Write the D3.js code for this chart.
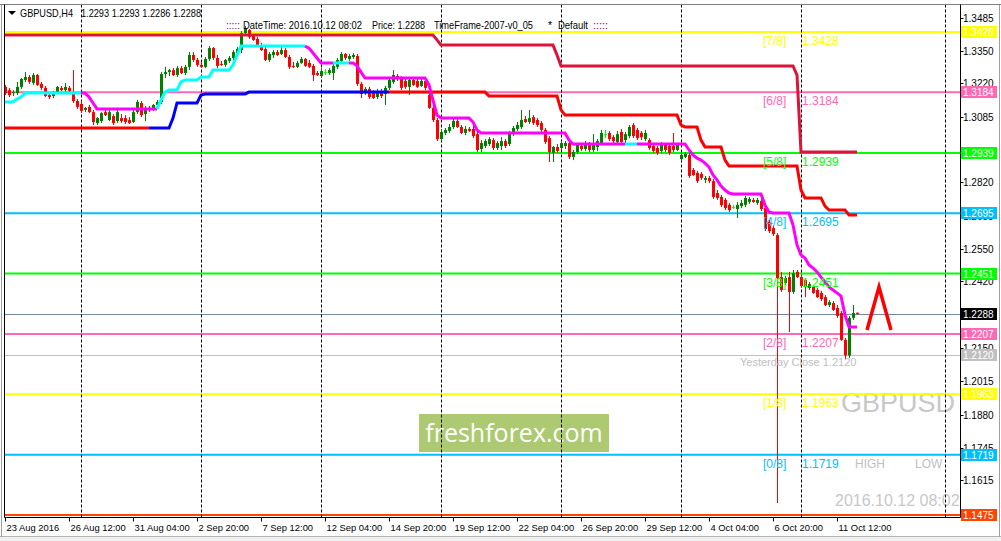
<!DOCTYPE html>
<html><head><meta charset="utf-8">
<script src="https://cdn.jsdelivr.net/npm/d3@7"></script>
<style>
html,body{margin:0;padding:0;background:#fff;}
svg{display:block;}
text{font-family:"Liberation Sans",Arial,sans-serif;}
</style>
</head><body>
<svg id="c" width="1001" height="541"></svg>
<script>
// ---------------- DATA ----------------
const symbol = "GBPUSD,H4";
const lastOHLC = "1.2293 1.2293 1.2286 1.2288";
const opens = [
1.3206,1.3193,1.3181,1.3181,1.3206,1.3234,1.3246,1.3222,1.3254,1.3218,
1.3202,1.3173,1.3169,1.3185,1.3202,1.3193,1.3202,1.3181,1.3149,1.3137,
1.3113,1.3125,1.3104,1.3060,1.3068,1.3104,1.3072,1.3088,1.3068,1.3080,
1.3080,1.3072,1.3064,1.3104,1.3141,1.3096,1.3121,1.3113,1.3133,1.3145,
1.3258,1.3266,1.3274,1.3254,1.3282,1.3262,1.3287,1.3335,1.3315,1.3295,
1.3287,1.3319,1.3363,1.3323,1.3299,1.3295,1.3311,1.3323,1.3343,1.3355,
1.3424,1.3436,1.3412,1.3400,1.3375,1.3359,1.3315,1.3335,1.3347,1.3339,
1.3355,1.3327,1.3291,1.3287,1.3303,1.3319,1.3303,1.3291,1.3262,1.3250,
1.3266,1.3262,1.3262,1.3287,1.3311,1.3339,1.3319,1.3327,1.3331,1.3218,
1.3181,1.3198,1.3181,1.3165,1.3189,1.3177,1.3202,1.3226,1.3250,1.3242,
1.3230,1.3206,1.3234,1.3230,1.3210,1.3230,1.3173,1.3121,1.3072,1.2995,
1.3020,1.3028,1.3044,1.3068,1.3044,1.3020,1.3036,1.3036,1.3015,1.2955,
1.2967,1.2975,1.2991,1.2959,1.2967,1.2987,1.2975,1.3015,1.3036,1.3044,
1.3076,1.3064,1.3084,1.3072,1.3060,1.3032,1.2999,1.2939,1.2963,1.2959,
1.2967,1.2979,1.2923,1.2943,1.2967,1.2955,1.2975,1.2951,1.2963,1.2979,
1.3015,1.3020,1.3003,1.2983,1.3024,1.2991,1.3007,1.3052,1.3032,1.3020,
1.2995,1.2991,1.2967,1.2959,1.2947,1.2971,1.2967,1.2967,1.2951,1.2914,
1.2923,1.2931,1.2870,1.2858,1.2854,1.2830,1.2838,1.2825,1.2777,1.2761,
1.2749,1.2729,1.2720,1.2712,1.2724,1.2729,1.2741,1.2749,1.2737,1.2745,
1.2716,1.2660,1.2635,1.2607,1.2437,1.2413,1.2437,1.2377,1.2458,1.2437,
1.2425,1.2393,1.2397,1.2385,1.2373,1.2356,1.2324,1.2332,1.2312,1.2292,
1.2183,1.2120,1.2272,1.2293];
const highs = [
1.3214,1.3202,1.3193,1.3226,1.3242,1.3266,1.3254,1.3262,1.3258,1.3226,
1.3210,1.3185,1.3189,1.3210,1.3210,1.3222,1.3210,1.3274,1.3157,1.3149,
1.3125,1.3133,1.3113,1.3084,1.3104,1.3121,1.3113,1.3096,1.3113,1.3096,
1.3092,1.3084,1.3113,1.3153,1.3149,1.3129,1.3129,1.3137,1.3153,1.3266,
1.3287,1.3278,1.3282,1.3291,1.3291,1.3295,1.3347,1.3347,1.3323,1.3307,
1.3327,1.3371,1.3367,1.3335,1.3311,1.3319,1.3331,1.3355,1.3367,1.3432,
1.3452,1.3440,1.3420,1.3408,1.3384,1.3367,1.3347,1.3355,1.3355,1.3367,
1.3363,1.3335,1.3307,1.3311,1.3327,1.3323,1.3315,1.3299,1.3270,1.3282,
1.3278,1.3282,1.3299,1.3323,1.3347,1.3343,1.3339,1.3343,1.3339,1.3226,
1.3206,1.3206,1.3193,1.3198,1.3198,1.3210,1.3242,1.3274,1.3258,1.3250,
1.3238,1.3238,1.3242,1.3238,1.3238,1.3242,1.3185,1.3153,1.3080,1.3036,
1.3040,1.3056,1.3076,1.3076,1.3052,1.3048,1.3044,1.3056,1.3028,1.2991,
1.2995,1.3003,1.2999,1.2987,1.3003,1.2995,1.3028,1.3048,1.3064,1.3113,
1.3088,1.3113,1.3092,1.3080,1.3068,1.3040,1.3007,1.2967,1.2975,1.2987,
1.2987,1.2991,1.2951,1.2979,1.2979,1.2987,1.2983,1.3015,1.2995,1.3032,
1.3032,1.3028,1.3011,1.3028,1.3036,1.3024,1.3052,1.3060,1.3040,1.3028,
1.3032,1.2999,1.2979,1.2967,1.2983,1.2979,1.2975,1.3020,1.2979,1.2939,
1.2943,1.2939,1.2878,1.2866,1.2862,1.2846,1.2846,1.2834,1.2789,1.2769,
1.2757,1.2737,1.2729,1.2741,1.2749,1.2765,1.2761,1.2757,1.2757,1.2753,
1.2724,1.2668,1.2644,1.2615,1.2458,1.2441,1.2458,1.2466,1.2466,1.2445,
1.2433,1.2417,1.2405,1.2393,1.2381,1.2364,1.2344,1.2340,1.2324,1.2300,
1.2191,1.2280,1.2324,1.2293];
const lows = [
1.3173,1.3165,1.3169,1.3173,1.3198,1.3226,1.3218,1.3214,1.3210,1.3193,
1.3165,1.3157,1.3161,1.3177,1.3189,1.3185,1.3185,1.3141,1.3117,1.3100,
1.3104,1.3100,1.3052,1.3052,1.3060,1.3088,1.3068,1.3052,1.3060,1.3060,
1.3056,1.3056,1.3060,1.3096,1.3084,1.3068,1.3104,1.3109,1.3125,1.3137,
1.3242,1.3250,1.3250,1.3246,1.3258,1.3254,1.3274,1.3307,1.3287,1.3282,
1.3282,1.3311,1.3315,1.3282,1.3291,1.3287,1.3303,1.3315,1.3327,1.3343,
1.3416,1.3400,1.3392,1.3371,1.3351,1.3311,1.3307,1.3323,1.3331,1.3335,
1.3323,1.3278,1.3282,1.3282,1.3299,1.3287,1.3282,1.3230,1.3250,1.3242,
1.3254,1.3254,1.3234,1.3278,1.3303,1.3315,1.3311,1.3319,1.3210,1.3161,
1.3173,1.3157,1.3157,1.3157,1.3161,1.3133,1.3193,1.3218,1.3230,1.3193,
1.3198,1.3173,1.3210,1.3202,1.3206,1.3193,1.3117,1.3064,1.2987,1.2987,
1.3011,1.3020,1.3036,1.3040,1.3015,1.3011,1.3024,1.2999,1.2943,1.2943,
1.2959,1.2967,1.2951,1.2951,1.2951,1.2959,1.2967,1.3007,1.3028,1.3036,
1.3060,1.3056,1.3052,1.3044,1.3024,1.2975,1.2902,1.2902,1.2939,1.2951,
1.2955,1.2914,1.2910,1.2935,1.2947,1.2947,1.2943,1.2943,1.2947,1.2971,
1.2999,1.2987,1.2979,1.2975,1.2975,1.2979,1.2999,1.2999,1.2991,1.2991,
1.2987,1.2951,1.2939,1.2931,1.2939,1.2943,1.2931,1.2943,1.2947,1.2906,
1.2918,1.2838,1.2846,1.2817,1.2830,1.2817,1.2817,1.2753,1.2749,1.2720,
1.2708,1.2700,1.2712,1.2676,1.2716,1.2720,1.2733,1.2737,1.2729,1.2704,
1.2623,1.2615,1.2603,1.1523,1.2377,1.2405,1.2215,1.2369,1.2433,1.2393,
1.2356,1.2385,1.2369,1.2352,1.2340,1.2320,1.2316,1.2300,1.2272,1.2179,
1.2102,1.2110,1.2263,1.2286];
const closes = [
1.3181,1.3173,1.3185,1.3206,1.3238,1.3246,1.3226,1.3254,1.3214,1.3202,
1.3169,1.3165,1.3177,1.3206,1.3193,1.3206,1.3189,1.3149,1.3125,1.3109,
1.3121,1.3104,1.3064,1.3080,1.3100,1.3092,1.3104,1.3060,1.3104,1.3068,
1.3064,1.3060,1.3104,1.3145,1.3092,1.3121,1.3113,1.3133,1.3145,1.3258,
1.3266,1.3274,1.3254,1.3282,1.3262,1.3287,1.3335,1.3315,1.3295,1.3287,
1.3319,1.3363,1.3323,1.3291,1.3295,1.3315,1.3323,1.3347,1.3359,1.3424,
1.3444,1.3408,1.3396,1.3375,1.3355,1.3315,1.3339,1.3347,1.3335,1.3355,
1.3327,1.3287,1.3287,1.3303,1.3319,1.3291,1.3287,1.3254,1.3254,1.3270,
1.3266,1.3274,1.3291,1.3315,1.3339,1.3323,1.3331,1.3335,1.3218,1.3177,
1.3198,1.3165,1.3161,1.3189,1.3169,1.3202,1.3234,1.3254,1.3238,1.3202,
1.3206,1.3234,1.3214,1.3206,1.3230,1.3202,1.3121,1.3072,1.2995,1.3024,
1.3032,1.3044,1.3068,1.3044,1.3020,1.3036,1.3028,1.3007,1.2951,1.2979,
1.2987,1.2995,1.2959,1.2979,1.2987,1.2967,1.3020,1.3040,1.3052,1.3072,
1.3064,1.3080,1.3060,1.3052,1.3032,1.2983,1.2943,1.2963,1.2947,1.2979,
1.2979,1.2923,1.2943,1.2971,1.2955,1.2979,1.2951,1.2979,1.2987,1.3020,
1.3015,1.2995,1.2987,1.3015,1.2983,1.3015,1.3044,1.3007,1.2999,1.3003,
1.3020,1.2959,1.2947,1.2939,1.2971,1.2951,1.2939,1.2951,1.2971,1.2931,
1.2935,1.2846,1.2850,1.2825,1.2838,1.2838,1.2825,1.2761,1.2757,1.2728,
1.2716,1.2708,1.2720,1.2729,1.2737,1.2757,1.2753,1.2741,1.2749,1.2712,
1.2631,1.2623,1.2611,1.2433,1.2385,1.2433,1.2377,1.2453,1.2437,1.2401,
1.2397,1.2409,1.2373,1.2356,1.2348,1.2324,1.2336,1.2304,1.2280,1.2183,
1.2120,1.2272,1.2292,1.2288];

// trailing line (cyan = up, magenta = down): [fromBar, toBar, price, state]
const trailSegs = [
[0,2,1.3145,"up"],[3,3,1.3157,"up"],[4,4,1.3165,"up"],[5,19,1.3181,"up"],
[20,20,1.3181,"dn"],[21,21,1.3165,"dn"],[22,22,1.3141,"dn"],[23,38,1.3117,"dn"],
[39,39,1.3153,"up"],[40,40,1.3185,"up"],[41,43,1.3193,"up"],[44,44,1.3226,"up"],[45,48,1.3234,"up"],
[49,51,1.3246,"up"],[52,56,1.3274,"up"],[57,57,1.3295,"up"],[58,58,1.3335,"up"],[59,75,1.3371,"up"],
[76,76,1.3363,"dn"],[77,77,1.3343,"dn"],[78,78,1.3323,"dn"],[79,82,1.3303,"dn"],
[83,86,1.3303,"up"],
[87,87,1.3303,"dn"],[88,88,1.3291,"dn"],[89,89,1.3266,"dn"],[90,105,1.3242,"dn"],[106,106,1.3214,"dn"],
[107,107,1.3153,"dn"],[108,108,1.3092,"dn"],[109,116,1.3080,"dn"],[117,117,1.3064,"dn"],[118,118,1.3032,"dn"],
[119,140,1.3020,"dn"],[141,141,1.2991,"dn"],[142,155,1.2975,"dn"],
[156,158,1.2975,"up"],
[159,170,1.2975,"dn"],[171,171,1.2951,"dn"],[172,172,1.2931,"dn"],[173,173,1.2918,"dn"],[174,174,1.2910,"dn"],
[175,175,1.2898,"dn"],[176,176,1.2882,"dn"],[177,177,1.2850,"dn"],[178,178,1.2830,"dn"],[179,179,1.2805,"dn"],
[180,180,1.2789,"dn"],[181,181,1.2777,"dn"],[182,189,1.2773,"dn"],[190,190,1.2728,"dn"],[191,191,1.2700,"dn"],
[192,196,1.2696,"dn"],[197,197,1.2648,"dn"],[198,198,1.2567,"dn"],[199,199,1.2526,"dn"],[200,200,1.2514,"dn"],
[201,201,1.2486,"dn"],[202,202,1.2474,"dn"],[203,203,1.2458,"dn"],[204,204,1.2437,"dn"],[205,205,1.2417,"dn"],
[206,206,1.2397,"dn"],[207,207,1.2385,"dn"],[208,208,1.2373,"dn"],[209,209,1.2360,"dn"],[210,210,1.2284,"dn"],
[211,213,1.2235,"dn"]];

// stop line (blue = up, red = down)
const stopSegs = [
[0,36,1.3040,"dn"],[37,41,1.3040,"up"],[42,42,1.3080,"up"],[43,48,1.3141,"up"],[49,49,1.3173,"up"],
[50,60,1.3177,"up"],[61,96,1.3185,"up"],[97,120,1.3185,"dn"],[121,138,1.3169,"dn"],[139,139,1.3113,"dn"],
[140,168,1.3092,"dn"],[169,169,1.3052,"dn"],[170,173,1.3044,"dn"],[174,174,1.2991,"dn"],[175,179,1.2963,"dn"],
[180,180,1.2910,"dn"],[181,198,1.2886,"dn"],[199,199,1.2789,"dn"],[200,204,1.2757,"dn"],[205,205,1.2724,"dn"],
[206,210,1.2708,"dn"],[211,213,1.2688,"dn"]];

// upper channel line (crimson)
const ceilSegs = [
[0,107,1.3416],[108,108,1.3396],[109,137,1.3375],[138,138,1.3335],[139,197,1.3291],[198,198,1.3254],[199,213,1.2943]];

// Murrey math levels
const mmLevels = [1.3428,1.3184,1.2939,1.2695,1.2451,1.2207,1.1963,1.1719,1.1475];
const mmNames  = ["[7/8]","[6/8]","[5/8]","[4/8]","[3/8]","[2/8]","[1/8]","[0/8]",""];
const bidPrice = 1.2288;
const yesterdayClose = 1.2120;

const priceTicks = [1.3485,1.3350,1.3220,1.3085,1.2820,1.2685,1.2550,1.2420,1.2150,1.2015,1.1880,1.1745,1.1615];
const timeTickBars = [0,16,32,48,64,80,96,112,128,144,160,176,192,208];
const timeTickLabels = ["23 Aug 2016","26 Aug 12:00","31 Aug 04:00","2 Sep 20:00","7 Sep 12:00","12 Sep 04:00",
 "14 Sep 20:00","19 Sep 12:00","22 Sep 04:00","26 Sep 20:00","29 Sep 12:00","4 Oct 04:00","6 Oct 20:00","11 Oct 12:00"];
const weekStartBars = [19,49,79,109,139,169,199];
const markerBars = [235];
const arrowPts = [[215.5,1.2223],[218.5,1.2397],[221.5,1.2223]];

// ---------------- DRAW ----------------
const svg = d3.select("#c");
const PL=4.5, PR=960.5, PT=4.5, PB=517.5;
const x = d3.scaleLinear().domain([0,213]).range([5,857]);
const y = d3.scaleLinear().domain([1.3428,1.1475]).range([32,515]);

const mmColors = ["#FFFF00","#FF69B4","#00FF00","#00BFFF","#00FF00","#FF69B4","#FFFF00","#00BFFF","#FF4500"];

svg.append("rect").attr("width",1001).attr("height",541).attr("fill","#ffffff");
svg.append("rect").attr("x",0).attr("y",537).attr("width",1001).attr("height",4).attr("fill","#f0f0f0");
svg.append("line").attr("x1",0).attr("x2",1001).attr("y1",536.5).attr("y2",536.5).attr("stroke","#b4b4b4");
svg.append("line").attr("x1",1.5).attr("x2",1.5).attr("y1",4).attr("y2",537).attr("stroke","#a0a0a0");
svg.append("line").attr("x1",999.5).attr("x2",999.5).attr("y1",4).attr("y2",537).attr("stroke","#a0a0a0");

const defs = svg.append("defs");
defs.append("clipPath").attr("id","pc").append("rect").attr("x",5).attr("y",5).attr("width",955).attr("height",512);
const g = svg.append("g").attr("clip-path","url(#pc)");

// logo
const logo = g.append("g");
logo.append("rect").attr("x",419).attr("y",414).attr("width",190).attr("height",38).attr("fill","#a6c566").attr("opacity",0.92);
logo.append("text").attr("x",514).attr("y",442).attr("text-anchor","middle").attr("fill","#ffffff")
  .style("font-family","'Open Sans',sans-serif").style("font-size","25px").text("freshforex.com");

// watermarks
g.append("text").attr("x",841).attr("y",412).attr("fill","#c8c8c8").style("font-size","27px").text("GBPUSD");
g.append("text").attr("x",835).attr("y",506).attr("fill","#c8c8c8").style("font-size","16px").text("2016.10.12 08:02");

// horizontal lines
mmLevels.forEach((v,i)=>{
  g.append("line").attr("x1",PL).attr("x2",PR).attr("y1",y(v)).attr("y2",y(v))
   .attr("stroke",mmColors[i]).attr("stroke-width",2);
});
g.append("line").attr("x1",PL).attr("x2",PR).attr("y1",Math.round(y(bidPrice))+0.5).attr("y2",Math.round(y(bidPrice))+0.5).attr("stroke","#778899");
g.append("line").attr("x1",PL).attr("x2",PR).attr("y1",Math.round(y(yesterdayClose))+0.5).attr("y2",Math.round(y(yesterdayClose))+0.5).attr("stroke","#c0c0c0");

// separators
weekStartBars.concat(markerBars).forEach(b=>{
  const px = Math.round(x(b))+0.5;
  g.append("line").attr("x1",px).attr("x2",px).attr("y1",PT).attr("y2",PB)
   .attr("stroke","#000").attr("stroke-dasharray","3,2");
});

// candles
const upCol="#008000", dnCol="#FF0000", dojiCol="#00FF00";
const cg = g.append("g");
opens.forEach((o,i)=>{
  const h=highs[i], l=lows[i], c=closes[i];
  const cx = Math.round(x(i));
  const col = Math.abs(o-c)<0.00005 ? dojiCol : (c>o?upCol:dnCol);
  cg.append("line").attr("x1",cx+0.5).attr("x2",cx+0.5).attr("y1",y(h)).attr("y2",y(l)).attr("stroke",col);
  const top = Math.min(y(o),y(c)), hh = Math.max(1, Math.abs(y(o)-y(c)));
  cg.append("rect").attr("x",cx-1).attr("y",top).attr("width",3).attr("height",hh).attr("fill",col);
});

// step lines
function expand(segs){
  const out=[];
  segs.forEach(s=>{for(let b=s[0];b<=s[1];b++) out.push({b:b,v:s[2],st:s[3]});});
  return out;
}
const lineGen = d3.line().x(d=>x(d.b)).y(d=>y(d.v));
function drawStates(pts, colors, width){
  let run=[pts[0]], st=pts[0].st;
  const flush=()=>{ if(run.length>1) g.append("path").attr("d",lineGen(run)).attr("fill","none")
      .attr("stroke",colors[st]).attr("stroke-width",width).attr("stroke-linejoin","miter"); };
  for(let i=1;i<pts.length;i++){
    if(pts[i].st!==st){ flush(); run=[pts[i-1]]; st=pts[i].st; }
    run.push(pts[i]);
  }
  flush();
}
drawStates(expand(ceilSegs).map(d=>({b:d.b,v:d.v,st:"c"})), {c:"#DC143C"}, 3);
drawStates(expand(stopSegs), {up:"#0000FF",dn:"#FF0000"}, 3);
drawStates(expand(trailSegs), {up:"#00FFFF",dn:"#FF00FF"}, 3);

// red arrow mark
g.append("path").attr("d",d3.line().x(d=>x(d[0])).y(d=>y(d[1]))(arrowPts))
 .attr("fill","none").attr("stroke","#FF0000").attr("stroke-width",3.5);

// MM labels
mmLevels.forEach((v,i)=>{
  if(!mmNames[i]) return;
  const by = y(v)+13;
  g.append("text").attr("x",763).attr("y",by).attr("fill",mmColors[i]).style("font-size","12px").text(mmNames[i]);
  g.append("text").attr("x",802).attr("y",by).attr("fill",mmColors[i]).style("font-size","12px").text(v.toFixed(4));
});
g.append("text").attr("x",855).attr("y",y(1.1719)+13).attr("fill","#c0c0c0").style("font-size","12px").text("HIGH");
g.append("text").attr("x",915).attr("y",y(1.1719)+13).attr("fill","#c0c0c0").style("font-size","12px").text("LOW");
g.append("text").attr("x",740).attr("y",y(yesterdayClose)+11).attr("fill","#c0c0c0").style("font-size","11px")
  .text("Yesterday Close " + yesterdayClose.toFixed(4));

// header
const hd = svg.append("g").style("font-size","10.5px");
hd.append("path").attr("d","M8,11L16,11L12,15Z").attr("fill","#000");
hd.append("text").attr("x",20).attr("y",17).attr("textLength",53).attr("lengthAdjust","spacingAndGlyphs").text(symbol);
hd.append("text").attr("x",81).attr("y",17).attr("textLength",120).attr("lengthAdjust","spacingAndGlyphs").text(lastOHLC);
hd.append("text").attr("x",226).attr("y",29).attr("fill","#800080").attr("textLength",14).attr("lengthAdjust","spacingAndGlyphs").text(":::::");
hd.append("text").attr("x",243).attr("y",29).attr("textLength",119).attr("lengthAdjust","spacingAndGlyphs").text("DateTime: 2016.10.12 08:02");
hd.append("text").attr("x",372).attr("y",29).attr("textLength",53).attr("lengthAdjust","spacingAndGlyphs").text("Price: " + bidPrice.toFixed(4));
hd.append("text").attr("x",434).attr("y",29).attr("textLength",99).attr("lengthAdjust","spacingAndGlyphs").text("TimeFrame-2007-v0_05");
hd.append("text").attr("x",548).attr("y",29).text("*");
hd.append("text").attr("x",558).attr("y",29).attr("textLength",30).attr("lengthAdjust","spacingAndGlyphs").text("Default");
hd.append("text").attr("x",593).attr("y",29).attr("fill","#800080").attr("textLength",15).attr("lengthAdjust","spacingAndGlyphs").text(":::::");

// plot border
svg.append("line").attr("x1",0).attr("x2",1001).attr("y1",PT).attr("y2",PT).attr("stroke","#808080");
svg.append("line").attr("x1",PL).attr("x2",PL).attr("y1",PT).attr("y2",PB).attr("stroke","#000");
svg.append("line").attr("x1",PR).attr("x2",PR).attr("y1",PT).attr("y2",PB).attr("stroke","#000");
svg.append("line").attr("x1",PL).attr("x2",PR).attr("y1",PB).attr("y2",PB).attr("stroke","#000");

// right axis ticks
const ax = svg.append("g").style("font-size","10px");
priceTicks.forEach(v=>{
  const py = Math.round(y(v))+0.5;
  ax.append("line").attr("x1",PR).attr("x2",PR+3).attr("y1",py).attr("y2",py).attr("stroke","#000");
  ax.append("text").attr("x",963).attr("y",py+3.5).attr("fill","#000").text(v.toFixed(4));
});
// price boxes
const boxes = mmLevels.map((v,i)=>({v:v,bg:mmColors[i]}))
  .concat([{v:bidPrice,bg:"#000000"},{v:yesterdayClose,bg:"#c0c0c0"}]);
boxes.forEach(b=>{
  const py = Math.round(y(b.v));
  ax.append("rect").attr("x",961).attr("y",py-6).attr("width",36).attr("height",12).attr("fill",b.bg);
  ax.append("text").attr("x",963).attr("y",py+4).attr("fill","#ffffff").text(b.v.toFixed(4));
});

// bottom axis
const bx = svg.append("g").style("font-size","9.4px");
timeTickBars.forEach((b,i)=>{
  const px = Math.round(x(b))+0.5;
  bx.append("line").attr("x1",px).attr("x2",px).attr("y1",PB).attr("y2",PB+4).attr("stroke","#000");
  bx.append("text").attr("x",px+1).attr("y",531).attr("fill","#000").text(timeTickLabels[i]);
});
</script>
</body></html>
